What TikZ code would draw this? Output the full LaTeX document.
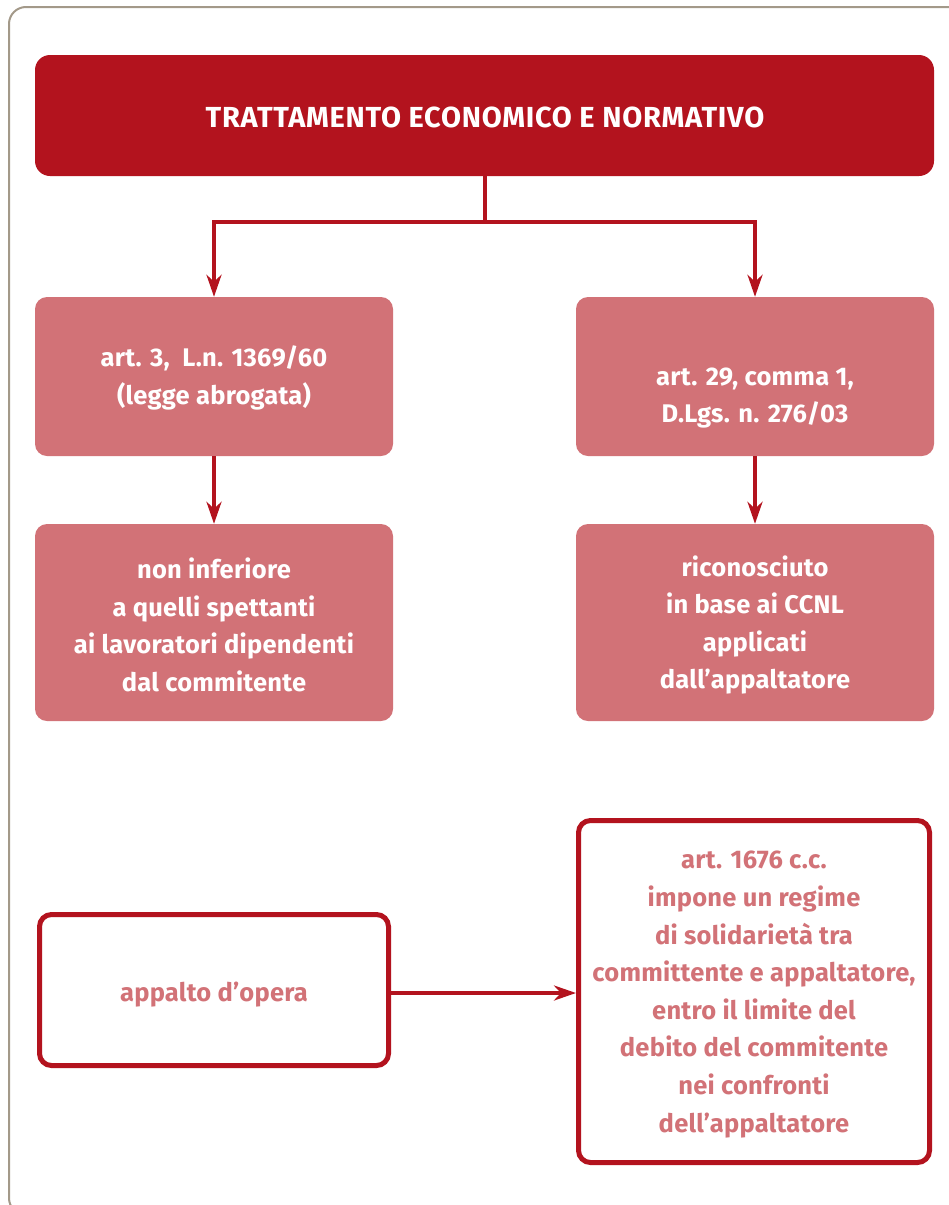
\documentclass[tikz,border=0pt]{standalone}
\usepackage{fontspec}
\setmainfont{Fira Sans}
\usetikzlibrary{arrows.meta}
\definecolor{dred}{HTML}{B3131E}
\definecolor{pinkc}{HTML}{D27277}
\definecolor{framec}{HTML}{A39989}
\newcommand{\bodyfont}{\fontsize{25.5}{37.5}\selectfont\bfseries\addfontfeatures{LetterSpace=1}}
\tikzset{
  conn/.style={draw=dred, line width=4pt},
  arr/.style={conn, -{Stealth[length=22pt, width=15pt, inset=7pt]}},
  titlebox/.style={fill=dred, rounded corners=15pt, inner sep=0pt},
  titletext/.style={text=white, inner sep=0pt,
    font=\fontsize{29}{32}\selectfont\bfseries\addfontfeatures{LetterSpace=2.5}},
  pinkbox/.style={fill=pinkc, rounded corners=12pt, inner sep=0pt, minimum width=358pt},
  whitebox/.style={draw=dred, line width=5pt, fill=white, rounded corners=12pt, inner sep=0pt},
  btext/.style={text=white, align=center, inner sep=0pt, font=\bodyfont},
  ptext/.style={btext, text=pinkc}
}
\begin{document}
\begin{tikzpicture}[x=1pt, y=-1pt]
\useasboundingbox (0,0) rectangle (949,1205);
\begin{scope}
\clip (0,0) rectangle (949,1205);
\draw[framec, line width=2pt, rounded corners=17pt] (9,7) rectangle (1000,1215);
\end{scope}
% title
\node[titlebox, minimum width=899pt, minimum height=121pt] (title) at (484.5,115.5) {};
\node[titletext] (titlet) at (485,117.5) {TRATTAMENTO ECONOMICO E NORMATIVO};
% second row
\node[pinkbox, minimum height=159pt] (L1) at (214,376.5) {};
\node[btext] (L1t) at (214,378) {art. 3,\ \ L.n. 1369/60\\(legge abrogata)};
\node[pinkbox, minimum height=159pt] (R1) at (755,376.5) {};
\node[btext] (R1t) at (755,398) {art. 29, comma 1,\\D.Lgs. n. 276/03};
% third row
\node[pinkbox, minimum height=197pt] (L2) at (214,622.5) {};
\node[btext] (L2t) at (214,625)
  {non inferiore\\a quelli spettanti\\ai lavoratori dipendenti\\dal commitente};
\node[pinkbox, minimum height=197pt] (R2) at (755,622.5) {};
\node[btext] (R2t) at (755,625)
  {riconosciuto\\in base ai CCNL\\applicati\\dall’appaltatore};
% bottom
\node[whitebox, minimum width=349pt, minimum height=151pt] (BL) at (214,990) {};
\node[ptext] (BLt) at (214,995) {appalto d’opera};
\node[whitebox, minimum width=351pt, minimum height=342pt] (BR) at (754,991.5) {};
\node[ptext, font=\fontsize{25.5}{37.6}\selectfont\bfseries\addfontfeatures{LetterSpace=1}] (BRt) at (754,994.5)
  {art. 1676 c.c.\\impone un regime\\di solidarietà tra\\committente e appaltatore,\\entro il limite del\\debito del commitente\\nei confronti\\dell’appaltatore};
% connectors
\coordinate (j) at (485,222);
\draw[conn] (title.south -| j) -- (j);
\draw[arr] (j) -| (L1.north);
\draw[arr] (j) -| (R1.north);
\draw[arr] (L1.south) -- (L2.north);
\draw[arr] (R1.south) -- (R2.north);
\draw[arr] (BL.east |- 0,993) -- (BR.west |- 0,993);
\end{tikzpicture}
\end{document}
